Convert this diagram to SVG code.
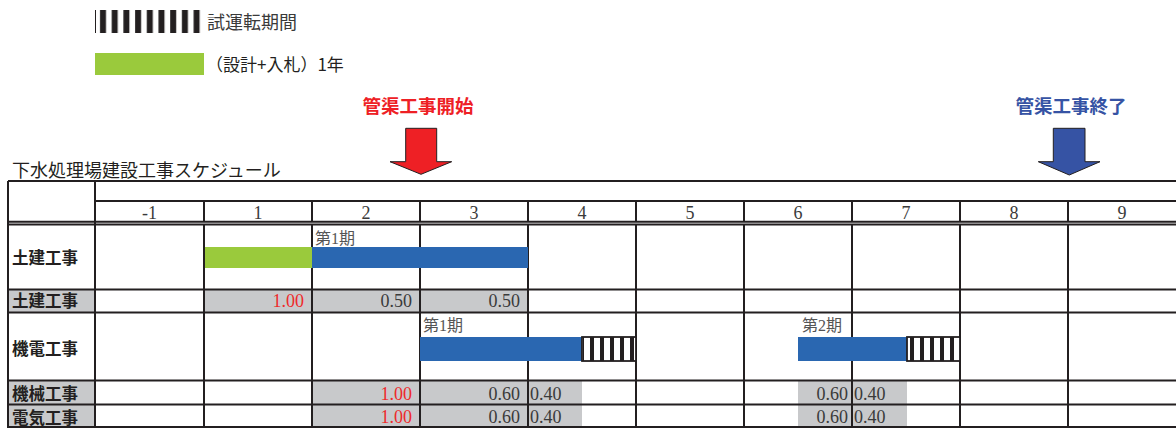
<svg xmlns="http://www.w3.org/2000/svg" width="1176" height="428" viewBox="0 0 1176 428">
<defs>
<style>
.grid{stroke:#231f20;stroke-width:2;fill:none}
.gray{fill:#c8c9cb}
.lbl{font-family:"Noto Sans CJK JP","Noto Sans",sans-serif;font-weight:bold;font-size:16.5px;fill:#231f20}
.num{font-family:"Liberation Serif","Noto Sans CJK JP",serif;font-size:18px;fill:#3a3a3a}
.red{fill:#ee2b2b}
.hdr{font-family:"Liberation Serif",serif;font-size:18px;fill:#3a3a3a;text-anchor:middle}
.phase{font-family:"Liberation Serif","Noto Sans CJK JP",serif;font-size:16px;fill:#555}
.green{fill:#9aca3c}
.blue{fill:#2a67b1}
</style>
<pattern id="legendHatch" x="95" y="0" width="11.7" height="40" patternUnits="userSpaceOnUse">
<rect x="5" y="0" width="6" height="40" fill="#231f20"/>
</pattern>
<pattern id="hatch" x="0" y="0" width="10" height="40" patternUnits="userSpaceOnUse">
<rect x="0" y="0" width="4" height="40" fill="#231f20"/>
</pattern>
</defs>
<rect width="1176" height="428" fill="#fff"/>

<g id="legend-trial">
<rect x="95" y="10" width="109" height="23" fill="url(#legendHatch)"/>
<rect x="95" y="10" width="1" height="23" fill="#231f20"/>
<text x="207" y="29" font-family="Noto Sans CJK JP,sans-serif" font-size="18" fill="#3a3a3a">試運転期間</text>
</g>
<g id="legend-design">
<rect x="95" y="53" width="109" height="22" class="green"/>
<text x="206" y="71" font-family="Noto Sans CJK JP,sans-serif" font-size="17" fill="#231f20">（設計+入札）1年</text>
</g>

<g id="arrow-start">
<text x="418" y="113" text-anchor="middle" font-family="Noto Sans CJK JP,sans-serif" font-weight="bold" font-size="18.5" fill="#ee2025">管渠工事開始</text>
<polygon points="405.7,128.3 436.7,128.3 436.7,161.7 451.7,161.7 421,174.3 390,161.7 405.7,161.7" fill="#ee2025" stroke="#231f20" stroke-width="1"/>
</g>
<g id="arrow-end">
<text x="1071" y="113" text-anchor="middle" font-family="Noto Sans CJK JP,sans-serif" font-weight="bold" font-size="18.5" fill="#3653a4">管渠工事終了</text>
<polygon points="1053.3,128.3 1085,128.3 1085,161.7 1100,161.7 1069.3,175 1038.3,161.7 1053.3,161.7" fill="#3653a4" stroke="#231f20" stroke-width="1"/>
</g>

<g id="title">
<text x="12" y="177" font-family="Noto Sans CJK JP,sans-serif" font-size="18" fill="#231f20">下水処理場建設工事スケジュール</text>
</g>

<g id="table">
<!-- gray fills -->
<rect class="gray" x="8" y="290" width="87" height="23"/>
<rect class="gray" x="204" y="290" width="324" height="23"/>
<rect class="gray" x="8" y="381" width="87" height="47"/>
<rect class="gray" x="312" y="381" width="270" height="47"/>
<rect class="gray" x="798" y="381" width="109" height="47"/>

<!-- grid lines -->
<path class="grid" d="M8,181H1176 M95,201H1176 M8,221.7H1176 M8,224.6H1176 M8,289.5H1176 M8,312.5H1176 M8,380.5H1176 M8,404.5H1176 M8,427H1176"/>
<path class="grid" d="M8,181V428 M95,181V428 M204,201V222 M312,201V222 M420,201V222 M528,201V222 M636,201V222 M744,201V222 M852,201V222 M960,201V222 M1068,201V222"/>
<path class="grid" d="M204,225V428 M312,225V428 M420,225V428 M528,225V428 M636,225V428 M744,225V428 M852,225V428 M960,225V428 M1068,225V428"/>

<!-- 土建 bars -->
<rect class="green" x="205" y="247" width="107" height="21"/>
<rect class="blue" x="312" y="247" width="216" height="21"/>

<!-- 機電 bars -->
<rect class="blue" x="420" y="337" width="162" height="24"/>
<rect x="582" y="337" width="54" height="24" fill="#fff"/>
<rect x="583" y="337" width="53" height="24" fill="url(#hatch)"/>
<rect x="582" y="337" width="54" height="24" fill="none" stroke="#231f20" stroke-width="1.8"/>
<rect class="blue" x="798" y="337" width="109" height="24"/>
<rect x="907" y="337" width="53" height="24" fill="#fff"/>
<rect x="908" y="337" width="52" height="24" fill="url(#hatch)"/>
<rect x="907" y="337" width="53" height="24" fill="none" stroke="#231f20" stroke-width="1.8"/>

<!-- header numbers -->
<text class="hdr" x="149.5" y="219">-1</text>
<text class="hdr" x="258" y="219">1</text>
<text class="hdr" x="366" y="219">2</text>
<text class="hdr" x="474" y="219">3</text>
<text class="hdr" x="582" y="219">4</text>
<text class="hdr" x="690" y="219">5</text>
<text class="hdr" x="798" y="219">6</text>
<text class="hdr" x="906" y="219">7</text>
<text class="hdr" x="1014" y="219">8</text>
<text class="hdr" x="1122" y="219">9</text>

<!-- row labels -->
<text class="lbl" x="12" y="264">土建工事</text>
<text class="lbl" x="12" y="307">土建工事</text>
<text class="lbl" x="12" y="355">機電工事</text>
<text class="lbl" x="12" y="400">機械工事</text>
<text class="lbl" x="12" y="424">電気工事</text>

<!-- phase labels -->
<text class="phase" x="315" y="244">第1期</text>
<text class="phase" x="423" y="331">第1期</text>
<text class="phase" x="802" y="331">第2期</text>

<!-- values -->
<text class="num red" x="304" y="307" text-anchor="end">1.00</text>
<text class="num" x="412" y="307" text-anchor="end">0.50</text>
<text class="num" x="520" y="307" text-anchor="end">0.50</text>

<text class="num red" x="412" y="400" text-anchor="end">1.00</text>
<text class="num" x="520" y="400" text-anchor="end">0.60</text>
<text class="num" x="530" y="400">0.40</text>
<text class="num" x="848" y="400" text-anchor="end">0.60</text>
<text class="num" x="854" y="400">0.40</text>

<text class="num red" x="412" y="423" text-anchor="end">1.00</text>
<text class="num" x="520" y="423" text-anchor="end">0.60</text>
<text class="num" x="530" y="423">0.40</text>
<text class="num" x="848" y="423" text-anchor="end">0.60</text>
<text class="num" x="854" y="423">0.40</text>
</g>
</svg>
